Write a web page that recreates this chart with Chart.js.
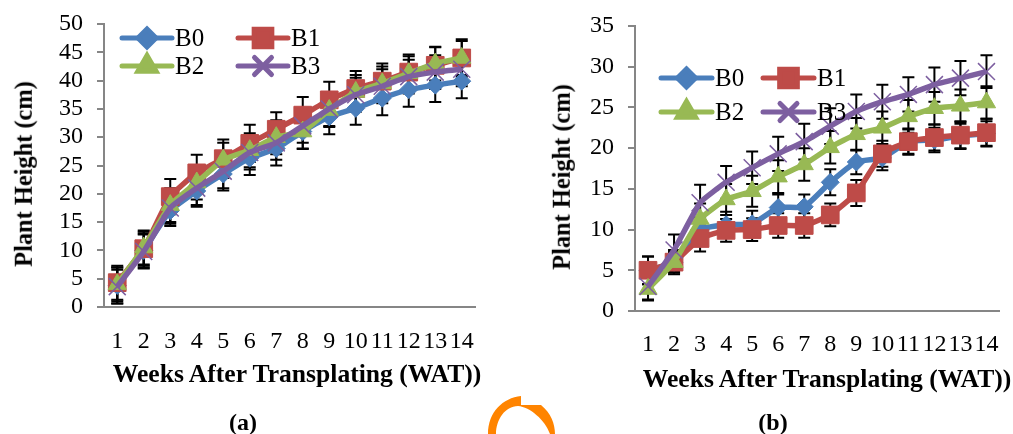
<!DOCTYPE html>
<html>
<head>
<meta charset="utf-8">
<title>Plant Height</title>
<script src="https://cdn.jsdelivr.net/npm/chart.js@4"></script>
<style>
    body { margin: 0; background: #fff; width: 1013px; height: 434px; overflow: hidden; position: relative; }
    canvas { position: absolute; top: 0; }
    #chartA { left: 0; }
    #chartB { left: 506px; }
    .label { position: absolute; font-family: "Liberation Serif", serif; font-weight: bold; color: #000; white-space: nowrap; line-height: 1; transform: translate(-50%, -50%); }
    .ylabel { transform: translate(-50%, -50%) rotate(-90deg); }
    #blob { position: absolute; left: 480px; top: 390px; }
</style>
</head>
<body>
<canvas id="chartA" width="506" height="434"></canvas>
<canvas id="chartB" width="507" height="434"></canvas>

<div class="label" style="left:297px;top:374px;font-size:25.6px">Weeks After Transplating (WAT))</div>
<div class="label" style="left:827px;top:379px;font-size:25.6px">Weeks After Transplating (WAT))</div>
<div class="label ylabel" style="left:24px;top:174px;font-size:24.4px">Plant Height (cm)</div>
<div class="label ylabel" style="left:562px;top:177px;font-size:24.4px">Plant Height (cm)</div>
<div class="label" style="left:243px;top:422px;font-size:24px">(a)</div>
<div class="label" style="left:773px;top:422px;font-size:24px">(b)</div>

<svg id="blob" width="80" height="44">
    <path fill="#ff8400" d="M8 44 C8 22 23 8 41 6 L41 15 L61 15 C71 23 75 34 75 44 L70 44 C65 30 50 17 38 16 C25 16 16 30 16 44 Z"/>
</svg>

<script>
const weeks = ['1', '2', '3', '4', '5', '6', '7', '8', '9', '10', '11', '12', '13', '14'];
const seriesNames = ['B0', 'B1', 'B2', 'B3'];

// panel (a)
const a_B0 = [3.8, 10, 17, 20.5, 23.5, 26.3, 28, 31, 33.6, 35.1, 36.9, 38.4, 39.2, 39.9];
const a_B1 = [4.3, 10.3, 19.5, 23.7, 26.2, 28.9, 31.4, 33.9, 36.6, 38.6, 39.9, 41.5, 42.7, 44];
const a_B2 = [4, 10.5, 18, 22, 26, 27.7, 30, 31, 34.8, 38, 39.5, 41.3, 43, 44];
const a_B3 = [3.6, 9.8, 17.5, 21, 24, 27.3, 29, 32, 35, 37.5, 39, 40.7, 41.5, 42];
const a_B0_err = [3.2, 3, 2.7, 2.8, 2.9, 3, 3, 3.1, 3.1, 2.9, 3, 3, 3, 3];
const a_B1_err = [3, 3, 3.1, 3.2, 3.4, 3.3, 3, 3.2, 3.2, 3.1, 3.1, 3.1, 3.2, 3.3];
const a_B2_err = [3, 3, 3, 3, 3, 3, 3, 3, 3, 3, 3, 3, 3, 3];
const a_B3_err = [3, 3, 2.8, 3, 3, 3, 3, 3, 3, 3, 3, 3, 3, 3];

// panel (b)
const b_B0 = [5, 6, 10, 10.6, 10.7, 12.7, 12.8, 15.8, 18.3, 18.8, 20.8, 21, 21.5, 21.8];
const b_B1 = [5, 6, 8.9, 9.9, 10, 10.5, 10.5, 11.8, 14.5, 19.3, 20.8, 21.3, 21.6, 21.9];
const b_B2 = [2.7, 6, 11.3, 13.7, 14.7, 16.5, 18, 20.1, 21.7, 22.5, 23.9, 24.9, 25.2, 25.6];
const b_B3 = [3, 7.5, 13.3, 15.8, 17.6, 19.3, 20.8, 22.7, 24.5, 25.7, 26.6, 27.8, 28.6, 29.4];
const b_B0_err = [1.7, 1.3, 1.5, 1.6, 1.6, 1.6, 1.5, 1.6, 1.5, 1.5, 1.5, 1.5, 1.5, 1.5];
const b_B1_err = [1.7, 1.2, 1.6, 1.4, 1.4, 1.5, 1.5, 1.4, 1.6, 1.6, 1.6, 1.6, 1.7, 1.7];
const b_B2_err = [1.4, 1.5, 1.9, 1.9, 1.9, 2, 2, 2, 2, 2, 2, 2, 2, 2];
const b_B3_err = [1.6, 1.9, 2.2, 2, 2, 2.1, 2.2, 2.2, 2.1, 2.1, 2.1, 2.1, 2.1, 2];

const colors = ['#4a7ebb', '#be4b48', '#98b954', '#7d5fa0'];
const markers = [
    { pointStyle: 'rectRot', radius: 9, borderWidth: 1 },
    { pointStyle: 'rect', radius: 12.5, borderWidth: 1 },
    { pointStyle: 'triangle', radius: 10.5, borderWidth: 1 },
    { pointStyle: 'crossRot', radius: 12, borderWidth: 1.5 }
];
const axisGray = '#868686';
const serif = 'Liberation Serif';

// error bars go under the lines
const errorBars = {
    id: 'errorBars',
    beforeDatasetsDraw(chart) {
        const { ctx, scales: { x, y } } = chart;
        ctx.save();
        ctx.strokeStyle = '#000';
        ctx.lineWidth = 2;
        chart.data.datasets.forEach(ds => {
            ds.data.forEach((v, i) => {
                const px = x.getPixelForValue(i);
                const top = y.getPixelForValue(v + ds.err[i]);
                const bot = y.getPixelForValue(v - ds.err[i]);
                ctx.beginPath();
                ctx.moveTo(px, top);
                ctx.lineTo(px, bot);
                ctx.moveTo(px - 6, top);
                ctx.lineTo(px + 6, top);
                ctx.moveTo(px - 6, bot);
                ctx.lineTo(px + 6, bot);
                ctx.stroke();
            });
        });
        ctx.restore();
    }
};

// legend with line + marker samples, 2 x 2
const sampleLegend = {
    id: 'sampleLegend',
    afterDatasetsDraw(chart, args, opts) {
        const { ctx } = chart;
        ctx.save();
        ctx.font = '25px "' + serif + '"';
        ctx.textBaseline = 'middle';
        seriesNames.forEach((name, i) => {
            const lx = opts.xs[i % 2];
            const ly = opts.ys[Math.floor(i / 2)];
            ctx.strokeStyle = colors[i];
            ctx.lineWidth = 5;
            ctx.lineCap = 'round';
            ctx.beginPath();
            ctx.moveTo(lx, ly);
            ctx.lineTo(lx + opts.lineLength, ly);
            ctx.stroke();
            ctx.fillStyle = colors[i];
            Chart.helpers.drawPoint(ctx, {
                pointStyle: markers[i].pointStyle,
                radius: markers[i].radius,
                borderWidth: markers[i].borderWidth
            }, lx + opts.lineLength / 2, ly);
            ctx.fillStyle = '#000';
            ctx.fillText(name, lx + opts.lineLength + 3, ly + 1);
        });
        ctx.restore();
    }
};

function makePanel(id, values, errs, yMax, box, legendPos, xTickPad) {
    const datasets = seriesNames.map((name, i) => ({
        label: name,
        data: values[i],
        err: errs[i],
        order: 3 - i,
        borderColor: colors[i],
        backgroundColor: colors[i],
        borderWidth: 5.5,
        tension: 0.15,
        pointStyle: markers[i].pointStyle,
        pointRadius: markers[i].radius,
        pointBorderWidth: markers[i].borderWidth,
        pointBorderColor: colors[i],
        pointBackgroundColor: colors[i]
    }));

    new Chart(document.getElementById(id), {
        type: 'line',
        data: { labels: weeks, datasets },
        plugins: [errorBars, sampleLegend],
        options: {
            responsive: false,
            animation: false,
            layout: { padding: { left: 0, top: box.top, right: box.right, bottom: 0 } },
            plugins: {
                legend: { display: false },
                tooltip: { enabled: false },
                sampleLegend: legendPos
            },
            scales: {
                x: {
                    offset: true,
                    // fixed plot box, no extra room for overhanging labels
                    afterFit: s => { s.height = 434 - box.bottom; s.paddingLeft = 0; s.paddingRight = 0; },
                    grid: { display: false },
                    border: { color: axisGray, width: 2 },
                    ticks: {
                        autoSkip: false,
                        maxRotation: 0,
                        padding: xTickPad,
                        color: '#000',
                        font: { family: serif, size: 24 }
                    }
                },
                y: {
                    min: 0,
                    max: yMax,
                    afterFit: s => { s.width = box.left; s.paddingTop = 0; s.paddingBottom = 0; },
                    grid: { drawOnChartArea: false, color: axisGray, lineWidth: 2, tickLength: 7 },
                    border: { color: axisGray, width: 2 },
                    ticks: {
                        autoSkip: false,
                        stepSize: 5,
                        padding: 14,
                        color: '#000',
                        font: { family: serif, size: 24 }
                    }
                }
            }
        }
    });
}

makePanel('chartA', [a_B0, a_B1, a_B2, a_B3], [a_B0_err, a_B1_err, a_B2_err, a_B3_err], 50,
    { left: 104, top: 24, right: 31, bottom: 307 },
    { xs: [122, 238], ys: [38, 66], lineLength: 50 }, 12);

makePanel('chartB', [b_B0, b_B1, b_B2, b_B3], [b_B0_err, b_B1_err, b_B2_err, b_B3_err], 35,
    { left: 129, top: 26, right: 5, bottom: 311 },
    { xs: [155, 257], ys: [78, 112], lineLength: 51 }, 11);
</script>
</body>
</html>
